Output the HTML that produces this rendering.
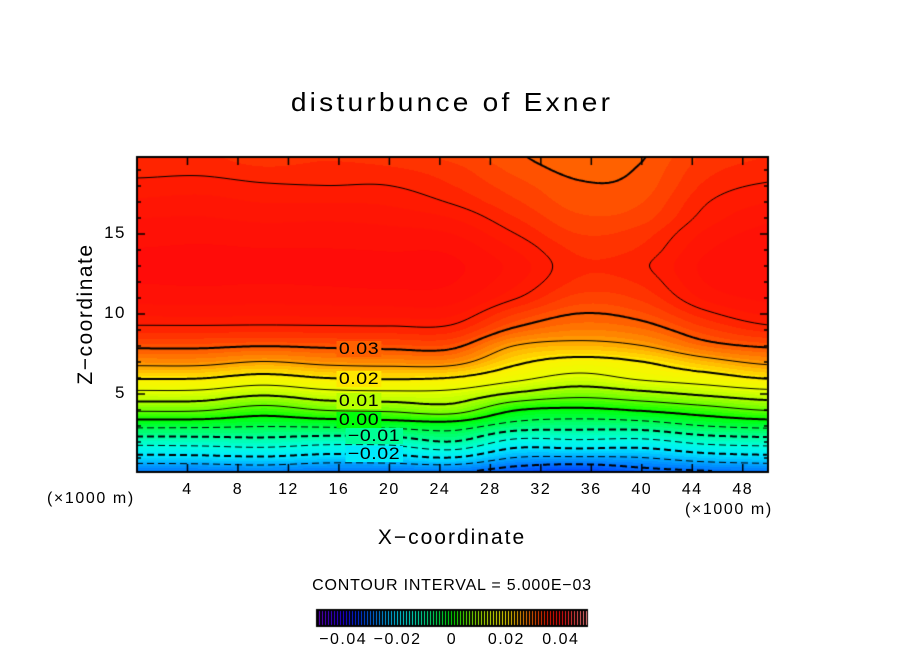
<!DOCTYPE html>
<html><head><meta charset="utf-8">
<style>
html,body{margin:0;padding:0;background:#fff;}
#root{position:relative;width:904px;height:654px;overflow:hidden;font-family:"Liberation Sans",sans-serif;color:#000;}
.t{position:absolute;white-space:nowrap;}
canvas{position:absolute;}
.lbl{position:absolute;font-size:17px;line-height:16px;padding:0 2px;letter-spacing:0.5px;transform:translate(-50%,-50%) scaleX(1.15);}
</style></head>
<body>
<div id="root">
  <div class="t" style="left:0;width:904px;top:87px;text-align:center;font-size:26px;letter-spacing:3px;transform:scaleX(1.08);">disturbunce of Exner</div>
  <div class="t" style="left:86px;top:314px;font-size:21px;letter-spacing:1.5px;transform:translate(-50%,-50%) rotate(-90deg);">Z&#8722;coordinate</div>
  <div class="t" style="left:0;width:904px;top:526px;text-align:center;font-size:21px;letter-spacing:2px;">X&#8722;coordinate</div>
  <div class="t" style="left:47px;top:490px;font-size:16px;letter-spacing:1.6px;">(×1000 m)</div>
  <div class="t" style="left:685px;top:501px;font-size:16px;letter-spacing:1.6px;">(×1000 m)</div>
  <div class="t" style="left:0;width:904px;top:577px;text-align:center;font-size:16px;letter-spacing:0.8px;">CONTOUR INTERVAL = 5.000E&#8722;03</div>
  <canvas id="plot" width="631" height="315" style="left:137px;top:157px;"></canvas>
  <canvas id="axes" width="904" height="654" style="left:0;top:0;"></canvas>
  <div id="labels"></div>
</div>
<script>
// ---- data ----
const xCols = [0,5,10,15,20,25,30,35,40,45,50];
const zRows = [0,1,2,3,4,5,6,7,8,9,10,11,12,13,14,15,16,17,18,19,20];
const col00 = [-0.030,-0.0215,-0.0129,-0.0036,0.006,0.0136,0.0206,0.0264,0.0307,0.0343,0.0365,0.038,0.0388,0.039,0.0388,0.0383,0.0375,0.0365,0.0355,0.0345,0.034];
const col05 = [-0.0298,-0.0212,-0.0126,-0.0038,0.0058,0.0134,0.0204,0.0264,0.0307,0.0343,0.0366,0.0381,0.0389,0.0391,0.0389,0.0384,0.0376,0.0367,0.0357,0.0346,0.0340];
const col10 = [-0.029,-0.0205,-0.012,-0.0045,0.003,0.011,0.0185,0.025,0.0302,0.0342,0.0365,0.038,0.0388,0.039,0.0388,0.0382,0.0372,0.0362,0.0352,0.034,0.033];
const col15 = [-0.0302,-0.0218,-0.0132,-0.004,0.0055,0.0132,0.0202,0.0262,0.0306,0.0343,0.0366,0.0381,0.0389,0.0391,0.0388,0.0382,0.0373,0.0362,0.035,0.0342,0.0335];
const col20 = [-0.0302,-0.0216,-0.013,-0.0033,0.0062,0.0138,0.0207,0.0266,0.0309,0.0344,0.0367,0.0382,0.039,0.039,0.0387,0.038,0.037,0.036,0.035,0.034,0.033];
const col25 = [-0.030,-0.020,-0.010,-0.0025,0.0075,0.0135,0.020,0.0265,0.0308,0.0342,0.0365,0.038,0.0388,0.039,0.0385,0.0375,0.0362,0.0348,0.0338,0.033,0.032];
const col30 = [-0.033,-0.025,-0.0165,-0.007,0.0005,0.0095,0.0165,0.021,0.025,0.0295,0.0325,0.0352,0.0365,0.037,0.0362,0.035,0.0338,0.0327,0.0318,0.0309,0.0302];
const col35 = [-0.035,-0.0255,-0.016,-0.008,-0.0008,0.0069,0.0135,0.0185,0.0237,0.0275,0.030,0.032,0.0335,0.034,0.0335,0.0325,0.0315,0.0307,0.0302,0.0296,0.029];
const col40 = [-0.032,-0.025,-0.0165,-0.0075,0.0007,0.0087,0.016,0.020,0.025,0.0285,0.031,0.0328,0.034,0.0347,0.034,0.0332,0.032,0.0312,0.0306,0.0302,0.0298];
const col45 = [-0.031,-0.0225,-0.0135,-0.0048,0.003,0.011,0.018,0.0235,0.0288,0.032,0.0345,0.0365,0.0375,0.0378,0.0373,0.0365,0.0355,0.0348,0.034,0.0333,0.0327];
const col50 = [-0.030,-0.0215,-0.0125,-0.0035,0.0055,0.013,0.0205,0.026,0.0305,0.0342,0.0365,0.0378,0.0385,0.0387,0.0385,0.038,0.0372,0.0362,0.0352,0.0343,0.0337];
const fieldCols = [col00,col05,col10,col15,col20,col25,col30,col35,col40,col45,col50];
const contourLevels = [-0.03,-0.025,-0.02,-0.015,-0.01,-0.005,0,0.005,0.01,0.015,0.02,0.025,0.03,0.035];
const contourLabels = [
  {text:"0.03", level:0.03, x:17.6},
  {text:"0.02", level:0.02, x:17.6},
  {text:"0.01", level:0.01, x:17.6},
  {text:"0.00", level:0, x:17.6},
  {text:"\u22120.01", level:-0.01, x:18.8},
  {text:"\u22120.02", level:-0.02, x:18.8}
];
const xTickLabels = [4,8,12,16,20,24,28,32,36,40,44,48];
const zTickLabels = [5,10,15];
const cbTickLabels = [-0.04,-0.02,0,0.02,0.04];
const cbTickText = ["\u22120.04","\u22120.02","0","0.02","0.04"];

// ---- scales ----
const PL=137, PR=768, PT=157, PB=472;
const XS=(PR-PL)/50;
function xPx(x){return PL + x*XS;}
function zPx(z){return 474 - z*16;}
function pxX(p){return (p-PL)/XS;}
function pxZ(p){return (474-p)/16;}

function cr(p0,p1,p2,p3,t){
  return 0.5*((2*p1)+(-p0+p2)*t+(2*p0-5*p1+4*p2-p3)*t*t+(-p0+3*p1-3*p2+p3)*t*t*t);
}
function colAt(ci,z){
  const c=fieldCols[Math.max(0,Math.min(fieldCols.length-1,ci))];
  let zi=Math.floor(z); zi=Math.max(0,Math.min(zRows.length-2,zi));
  const t=z-zi; const g=k=>c[Math.max(0,Math.min(c.length-1,k))];
  return cr(g(zi-1),g(zi),g(zi+1),g(zi+2),t);
}
function field(x,z){
  const fx=x/5; let xi=Math.floor(fx); xi=Math.max(0,Math.min(xCols.length-2,xi));
  const t=fx-xi;
  return cr(colAt(xi-1,z),colAt(xi,z),colAt(xi+1,z),colAt(xi+2,z),t);
}
const cmapV=[-0.05,-0.04,-0.035,-0.03,-0.025,-0.02,-0.015,-0.01,-0.005,0,0.005,0.01,0.015,0.02,0.025,0.03,0.035,0.04,0.05];
const cmapC=[[112,0,208],[32,0,255],[0,48,255],[0,112,255],[0,168,255],[0,232,255],[0,255,224],[0,255,160],[0,255,80],[0,255,0],[96,255,0],[176,255,0],[232,255,0],[255,240,0],[255,160,0],[255,88,0],[255,28,0],[255,10,10],[255,144,144]];
function cmap(v){
  if(v<=cmapV[0])return cmapC[0]; const n=cmapV.length;
  if(v>=cmapV[n-1])return cmapC[n-1];
  for(let i=0;i<n-1;i++){ if(v<=cmapV[i+1]){const t=(v-cmapV[i])/(cmapV[i+1]-cmapV[i]);const a=cmapC[i],b=cmapC[i+1];return [0,1,2].map(k=>Math.round(a[k]+(b[k]-a[k])*t));}}
}
function quant(v){const s=0.00125;return (Math.floor(v/s)+0.5)*s;}

// ---- fill ----
const cv=document.getElementById('plot'); const ctx=cv.getContext('2d');
const W=cv.width,H=cv.height;
const img=ctx.createImageData(W,H);
const F=[];
for(let j=0;j<H;j++){F.push(new Float32Array(W));
  for(let i=0;i<W;i++){
    const v=field(pxX(PL+i+0.5),pxZ(PT+j+0.5)); F[j][i]=v;
    const c=cmap(quant(v)); const k=(j*W+i)*4;
    img.data[k]=c[0];img.data[k+1]=c[1];img.data[k+2]=c[2];img.data[k+3]=255;
  }}
ctx.putImageData(img,0,0);

// ---- contours ----
ctx.strokeStyle='#000';
contourLevels.forEach(L=>{
  const major=Math.abs(Math.round(L*1000)%10)===0;
  ctx.lineWidth=major?2:1;
  if(L<0){
    let prev=null; ctx.beginPath();
    for(let i=0;i<W;i++){
      let y=null;
      for(let j=H-1;j>0;j--){const a=F[j][i],b=F[j-1][i];if((a-L)*(b-L)<=0&&a!==b){y=j-(L-a)/(b-a);break;}}
      if(y!==null&&prev!==null&&(i%11)<7){ctx.moveTo(i-1,prev);ctx.lineTo(i,y);}
      prev=y;
    }
    ctx.stroke();
  } else {
    ctx.beginPath(); const s=2;
    for(let j=0;j+s<H;j+=s)for(let i=0;i+s<W;i+=s){
      const v=[F[j][i],F[j][i+s],F[j+s][i+s],F[j+s][i]];
      const p=[[i,j],[i+s,j],[i+s,j+s],[i,j+s]]; const pts=[];
      for(let e=0;e<4;e++){const a=v[e],b=v[(e+1)%4];
        if((a<L)!==(b<L)){const t=(L-a)/(b-a);const A=p[e],B=p[(e+1)%4];pts.push([A[0]+(B[0]-A[0])*t,A[1]+(B[1]-A[1])*t]);}}
      for(let q=0;q+1<pts.length;q+=2){ctx.moveTo(pts[q][0],pts[q][1]);ctx.lineTo(pts[q+1][0],pts[q+1][1]);}
    }
    ctx.stroke();
  }
});

// ---- contour labels ----
const lab=document.getElementById('labels');
contourLabels.forEach(o=>{
  const i=Math.round(xPx(o.x)-PL); let y=null;
  for(let j=H-1;j>0;j--){const a=F[j][i],b=F[j-1][i];if((a-o.level)*(b-o.level)<=0&&a!==b){y=j-(o.level-a)/(b-a);break;}}
  if(y===null)return;
  const d=document.createElement('div'); d.className='lbl'; d.textContent=o.text;
  
  
  const c=cmap(quant(F[Math.round(y)][i]));
  d.style.left=xPx(o.x)+'px'; d.style.top=(PT+y)+'px'; d.style.background='rgb('+c.join(',')+')';
  lab.appendChild(d);
});

// ---- axes ----
const ax=document.getElementById('axes').getContext('2d');
ax.strokeStyle='#000'; ax.lineWidth=2; ax.strokeRect(PL,PT,PR-PL,PB-PT);
ax.lineWidth=1.5; ax.beginPath();
xTickLabels.forEach(x=>{const p=xPx(x);ax.moveTo(p,PB);ax.lineTo(p,PB-8);ax.moveTo(p,PT);ax.lineTo(p,PT+8);});
for(let z=1;z<=19;z++){const p=zPx(z);if(p<=PT+1)continue;const len=z%5===0?8:4;ax.moveTo(PL,p);ax.lineTo(PL+len,p);ax.moveTo(PR,p);ax.lineTo(PR-len,p);}
ax.stroke();
xTickLabels.forEach(x=>{
  const d=document.createElement('div'); d.className='t'; d.textContent=x;
  
  
  d.style.cssText+='font-size:16px;letter-spacing:1.5px;top:481px;left:'+(xPx(x)-20)+'px;width:40px;text-align:center;';
  lab.appendChild(d);
});
zTickLabels.forEach(z=>{
  const d=document.createElement('div'); d.className='t'; d.textContent=z;
  
  
  d.style.cssText+='font-size:17px;letter-spacing:1.5px;left:80px;width:46px;text-align:right;top:'+(zPx(z)-11)+'px;';
  lab.appendChild(d);
});

// ---- colorbar ----
const CB0=316, CB1=588, CBT=609, CBB=627;
function cbPx(v){return CB0+(v+0.05)/0.1*(CB1-CB0);}
ax.fillStyle='#000'; ax.fillRect(CB0,CBT,CB1-CB0,CBB-CBT);
for(let p=CB0+3;p<CB1-1;p+=3){
  const v=-0.05+(p-CB0)/(CB1-CB0)*0.1; const c=cmap(v);
  ax.fillStyle='rgb('+c.join(',')+')'; ax.fillRect(p,CBT+2,1,CBB-CBT-4);
}
cbTickLabels.forEach((v,k)=>{
  const d=document.createElement('div'); d.className='t'; d.textContent=cbTickText[k];
  
  
  d.style.cssText+='font-size:16px;letter-spacing:1.5px;top:631px;left:'+(cbPx(v)-30)+'px;width:60px;text-align:center;';
  lab.appendChild(d);
});
</script>
</body></html>
